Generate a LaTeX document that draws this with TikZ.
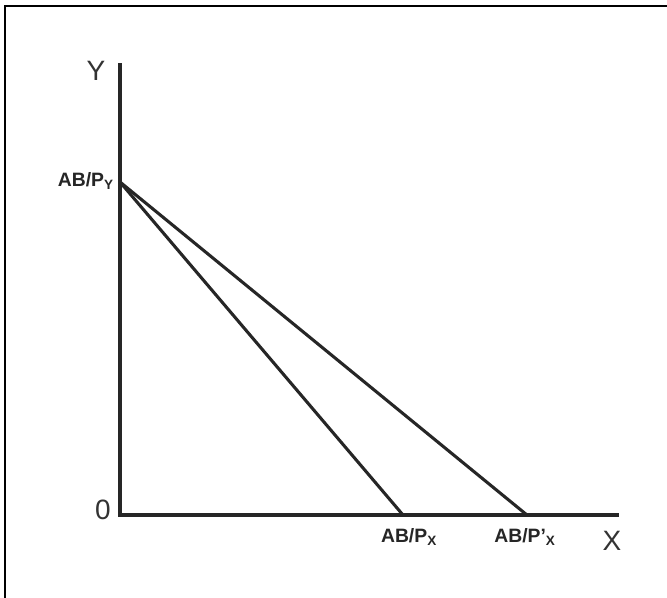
\documentclass[tikz,border=0pt]{standalone}
\usepackage{fontspec}
\setmainfont{Liberation Sans}
\begin{document}
\begin{tikzpicture}[x=0.75pt,y=-0.75pt,
  axis/.style={line width=2.6pt,black!85},
  budget/.style={line width=2.3pt,black!85},
  frame/.style={line width=2.2pt,black},
  big/.style={font=\fontsize{21}{24}\selectfont,text=black!80,inner sep=0pt},
  lab/.style={font=\bfseries\fontsize{14.5}{17}\selectfont,text=black!85,inner sep=0pt}]
\useasboundingbox (0,0) rectangle (667,597);
\fill[white] (0,0) rectangle (667,597);
\draw[frame] (5,700) -- (5,6) -- (700,6);
\coordinate (O) at (120,515);
\coordinate (Ytop) at (120,63);
\coordinate (Xend) at (619,515);
\coordinate (A) at (120,182);
\coordinate (B1) at (403,515);
\coordinate (B2) at (527,515);
\draw[axis] (Ytop) -- (O) -- (Xend);
\draw[budget] (A) -- (B1);
\draw[budget] (A) -- (B2);
\node[big] (ylab) at (96,71) {Y};
\node[big] (xlab) at (612,541) {X};
\node[big] (zero) at (103,510) {0};
\node[lab,anchor=east] (py) at (114,181) {AB/P\textsubscript{Y}};
\node[lab] (px) at (409,537) {AB/P\textsubscript{X}};
\node[lab] (ppx) at (525,537) {AB/P'\textsubscript{X}};
\end{tikzpicture}
\end{document}
